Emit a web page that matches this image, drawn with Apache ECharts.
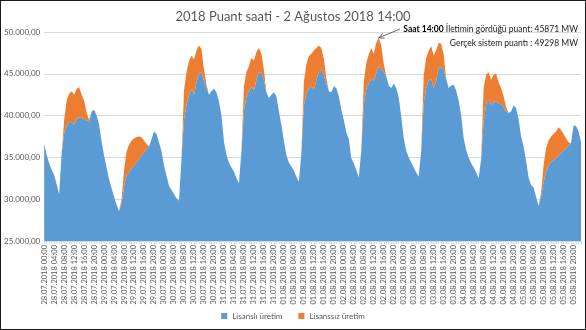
<!DOCTYPE html>
<html>
<head>
<meta charset="utf-8">
<script src="https://cdn.jsdelivr.net/npm/echarts@6/dist/echarts.min.js"></script>
<style>
  html, body { margin: 0; padding: 0; background: #fff; }
  #chart { width: 586px; height: 330px; box-sizing: border-box; border: 1px solid #1a1a1a; }
</style>
</head>
<body>
<div id="chart"></div>
<script>
// Days shown on the hourly axis
const days = ['28.07.2018', '29.07.2018', '30.07.2018', '31.07.2018', '01.08.2018',
              '02.08.2018', '03.08.2018', '04.08.2018', '05.08.2018'];
const hours = ['00:00','01:00','02:00','03:00','04:00','05:00','06:00','07:00','08:00','09:00','10:00','11:00',
               '12:00','13:00','14:00','15:00','16:00','17:00','18:00','19:00','20:00','21:00','22:00','23:00'];

// Licensed generation, MW (hourly, one row per day)
const lisansli = [
  36600,35300,34300,33500,32900,31800,30600,35500,37900,38700,39300,39200,38900,39600,39800,39700,39600,39400,39300,40500,40700,40000,38900,36900,
  35200,33800,32400,31300,30300,29300,28600,29500,31500,32900,33200,33700,34000,34400,34800,35200,35600,36000,36300,37200,38100,37800,36800,35700,
  34000,32800,31600,31100,30600,30100,29800,34900,39500,41300,42400,43200,42500,44000,45000,45200,44200,43400,42500,42900,43200,42800,41700,40000,
  36900,35300,34400,33800,33300,32500,31900,35700,40500,42300,42900,43400,43000,44300,45200,45100,44300,42800,42100,42500,42800,42300,40500,38900,
  37000,35300,34400,33900,33400,32700,32100,35500,41200,42600,43200,43500,43100,44200,45300,45400,44900,43800,42900,42800,43500,43300,42300,40700,
  39500,38000,37200,34900,34300,33500,32600,35800,41200,43200,43800,44400,44100,45100,45871,45600,45200,44700,43600,43300,43800,43300,42200,39900,
  37300,35800,35000,34400,33800,33200,32700,35800,41500,43300,44200,44400,43300,44200,45700,45800,45500,44400,43300,43600,43700,43000,41800,40000,
  37300,35900,35000,34300,33800,33200,32500,34800,39300,41300,42000,41300,41600,41800,41400,41400,41000,40500,40300,40500,41200,40900,39600,37500,
  36300,34600,32600,31700,31400,30300,29200,30300,32000,33300,34000,34500,34700,34900,35300,35500,35800,36100,36400,36700,38800,38800,38100,36900
];

// Unlicensed generation, MW (stacked on top of licensed)
const lisanssiz = [
  0,0,0,0,0,0,0,0,1600,3100,3300,3700,3600,3600,3600,2800,2200,900,200,0,0,0,0,0,
  0,0,0,0,0,0,0,500,2000,2800,3300,3300,3300,3000,2700,2200,1400,600,0,0,0,0,0,0,
  0,0,0,0,0,0,0,0,3500,3900,4100,4000,4200,3800,3400,2800,1300,300,0,0,0,0,0,0,
  0,0,0,0,0,0,0,0,3000,2900,3000,3500,3600,3300,2900,2300,1200,0,0,0,0,0,0,0,
  0,0,0,0,0,0,0,0,2800,3500,3900,3900,4700,3900,3100,2700,1900,700,0,0,0,0,0,0,
  0,0,0,0,0,0,0,0,2800,3100,3500,3700,3300,3600,3427,2800,1000,0,0,0,0,0,0,0,
  0,0,0,0,0,0,0,0,3300,3600,3600,3900,3900,3600,3000,2800,1800,0,0,0,0,0,0,0,
  0,0,0,0,0,0,0,0,4000,3600,3200,3000,3300,3200,2600,1900,1300,500,0,0,0,0,0,0,
  0,0,0,0,0,0,0,500,2000,2800,3000,3000,3100,3200,3300,2800,2000,1200,400,0,0,0,0,0
];

// Peak-hour annotation
const peakIndex = 5 * 24 + 14;   // 02.08.2018 14:00
const peakLicensed = 45871;
const peakSystem = 49298;

const categories = [];
days.forEach(d => hours.forEach(h => categories.push(d + ' ' + h)));

function trNumber(v) {
  const s = Math.round(v).toString().replace(/\B(?=(\d{3})+(?!\d))/g, '.');
  return s + ',00';
}

const FONT = 'Lato, "Open Sans", sans-serif';
const chart = echarts.init(document.getElementById('chart'), null, { renderer: 'canvas' });

chart.setOption({
  animation: false,
  textStyle: { fontFamily: FONT },
  title: {
    text: '2018 Puant saati - 2 Ağustos 2018 14:00',
    left: 'center',
    top: 4,
    textStyle: { fontFamily: FONT, fontSize: 13, fontWeight: 'normal', color: '#595959' }
  },
  legend: {
    bottom: 4,
    left: 'center',
    icon: 'rect',
    itemWidth: 6,
    itemHeight: 6,
    itemGap: 16,
    textStyle: { fontFamily: FONT, fontSize: 8, color: '#595959' },
    data: ['Lisanslı üretim', 'Lisanssız üretim']
  },
  grid: { left: 43, right: 4, top: 31, bottom: 88, containLabel: false },
  xAxis: {
    type: 'category',
    data: categories,
    boundaryGap: false,
    axisLine: { lineStyle: { color: '#d9d9d9' } },
    axisTick: { show: true, interval: 0, length: 3, lineStyle: { color: '#d9d9d9' } },
    axisLabel: {
      interval: 3,
      rotate: 90,
      fontSize: 7.5,
      color: '#595959',
      margin: 4,
      fontFamily: FONT
    }
  },
  yAxis: {
    type: 'value',
    min: 25000,
    max: 50000,
    interval: 5000,
    axisLine: { show: false },
    axisTick: { show: false },
    splitLine: { lineStyle: { color: '#d9d9d9' } },
    axisLabel: { fontSize: 8, color: '#595959', margin: 4, fontFamily: FONT, formatter: trNumber }
  },
  series: [
    {
      name: 'Lisanslı üretim',
      type: 'line',
      stack: 'uretim',
      data: lisansli,
      symbol: 'none',
      lineStyle: { width: 0 },
      itemStyle: { color: '#5B9BD5' },
      areaStyle: { color: '#5B9BD5', opacity: 1 }
    },
    {
      name: 'Lisanssız üretim',
      type: 'line',
      stack: 'uretim',
      data: lisanssiz,
      symbol: 'none',
      lineStyle: { width: 0 },
      itemStyle: { color: '#ED7D31' },
      areaStyle: { color: '#ED7D31', opacity: 1 }
    }
  ]
});

// Annotation text with an arrow pointing at the system peak
const tip = chart.convertToPixel({ gridIndex: 0 }, [peakIndex, peakSystem]);
const textRight = 577;
const start = [399, 28];
const ang = Math.atan2(tip[1] - start[1], tip[0] - start[0]);
const headLen = 6;
const h1 = [tip[0] - headLen * Math.cos(ang - 0.45), tip[1] - headLen * Math.sin(ang - 0.45)];
const h2 = [tip[0] - headLen * Math.cos(ang + 0.45), tip[1] - headLen * Math.sin(ang + 0.45)];

chart.setOption({
  graphic: [
    {
      type: 'text',
      x: textRight, y: 28,
      style: {
        text: '{b|Saat 14:00} İletimin gördüğü puant: ' + peakLicensed + ' MW',
        align: 'right', verticalAlign: 'middle',
        font: '8.5px ' + FONT,
        fill: '#1a1a1a',
        rich: { b: { fontWeight: 'bold', fontSize: 8.5, fontFamily: FONT, fill: '#000' } }
      }
    },
    {
      type: 'text',
      x: textRight, y: 42,
      style: {
        text: 'Gerçek sistem puantı : ' + peakSystem + ' MW',
        align: 'right', verticalAlign: 'middle',
        font: '8.5px ' + FONT,
        fill: '#1a1a1a'
      }
    },
    {
      type: 'polyline',
      shape: { points: [start, tip] },
      style: { stroke: '#404040', lineWidth: 0.8, fill: null }
    },
    {
      type: 'polyline',
      shape: { points: [h1, tip, h2] },
      style: { stroke: '#404040', lineWidth: 0.8, fill: null }
    }
  ]
});
</script>
</body>
</html>
